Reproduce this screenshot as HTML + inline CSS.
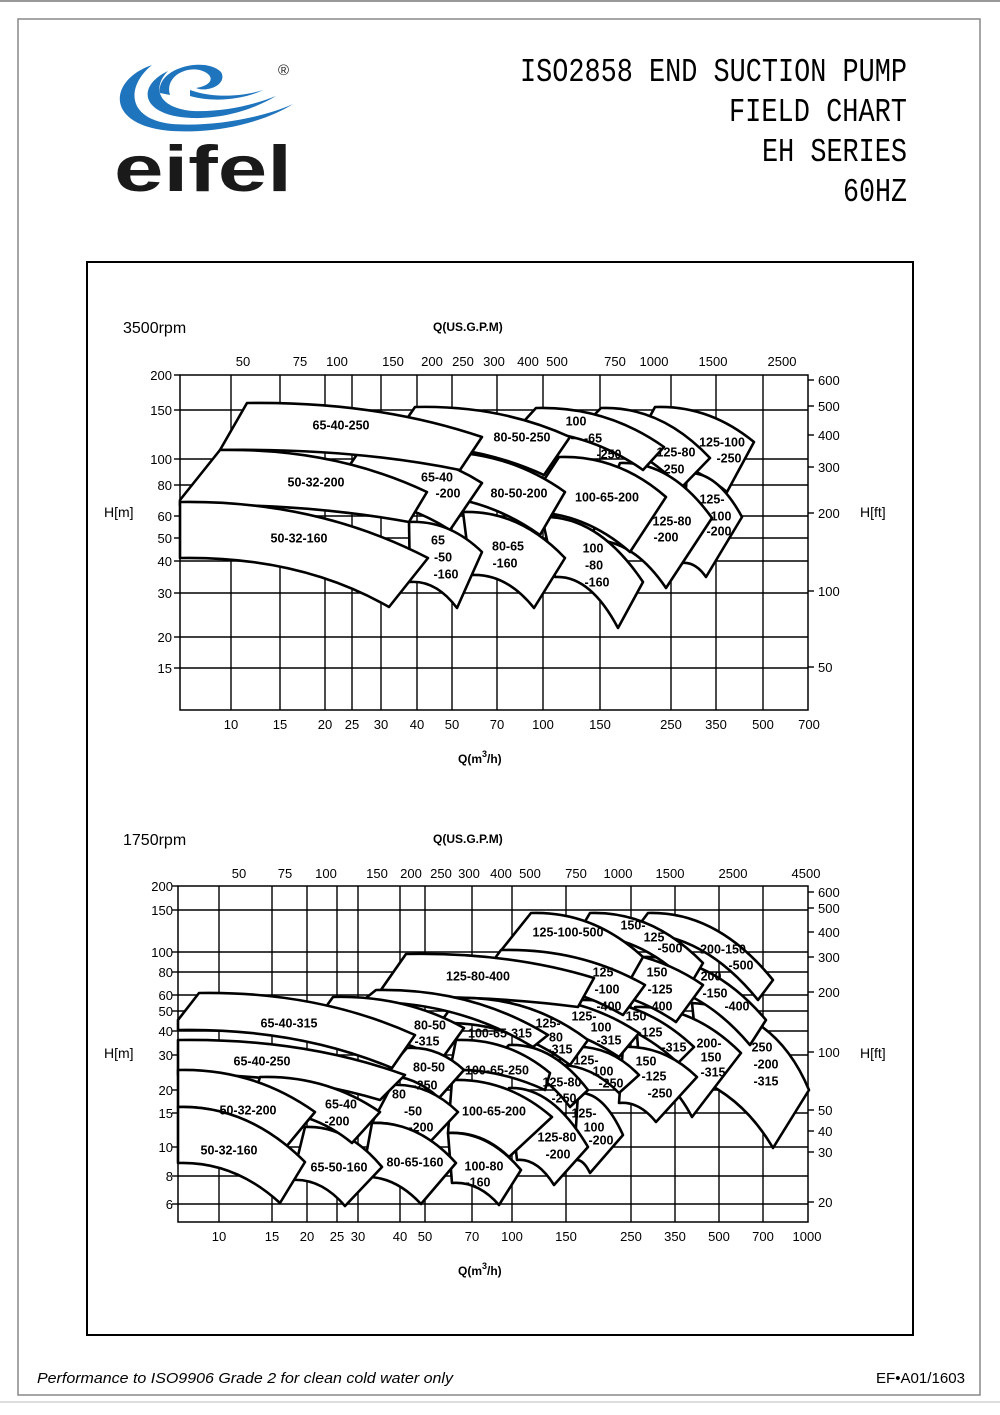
<!DOCTYPE html>
<html><head><meta charset="utf-8"><style>
html,body{margin:0;padding:0;background:#fff;}
svg{display:block;}
.g line{stroke:#000;stroke-width:1.4;}
.s path{fill:#fff;stroke:#000;stroke-width:2.6;stroke-linejoin:round;}
.lb{font-family:"Liberation Sans",sans-serif;font-size:12.5px;font-weight:bold;text-anchor:middle;dominant-baseline:middle;fill:#000;}
.ax{font-family:"Liberation Sans",sans-serif;font-size:13px;fill:#000;}
</style></head><body>
<svg width="1000" height="1415" viewBox="0 0 1000 1415" xmlns="http://www.w3.org/2000/svg">
<rect x="0" y="0" width="1000" height="1415" fill="#fff"/>
<line x1="0" y1="1" x2="1000" y2="1" stroke="#999" stroke-width="2"/>
<line x1="0" y1="1402" x2="1000" y2="1402" stroke="#ddd" stroke-width="2"/>
<rect x="18" y="19" width="962" height="1376" fill="none" stroke="#888" stroke-width="1.5"/>

<!-- logo -->
<g fill="#1e74bd">
<path d="M152,65 C108,80 104,126 172,131 C222,134 268,120 293,104 C262,118 212,127 172,124 C126,119 126,86 152,65 Z"/>
<path d="M168,71 C136,86 140,116 192,118 C226,119 256,108 276,96 C251,106 222,112 193,111 C157,108 152,87 168,71 Z"/>
<path d="M160,93 C156,68 205,56 221,72 C228,84 208,93 196,88 C210,86 216,78 205,72 C190,64 164,75 170,95 Z"/>
<path d="M190,90 C215,99 245,96 263,90 C245,99 215,103 190,96 Z"/>
</g>
<text x="278" y="75" font-family="Liberation Sans,sans-serif" font-size="15" fill="#222">®</text>
<text x="114" y="191" font-family="Liberation Sans,sans-serif" font-weight="bold" font-size="65" textLength="178" lengthAdjust="spacingAndGlyphs" fill="#1a1a1a">eifel</text>

<!-- title -->
<g font-family="Liberation Mono,monospace" font-size="33" fill="#000">
<text x="520" y="81" textLength="387" lengthAdjust="spacingAndGlyphs">ISO2858 END SUCTION PUMP</text>
<text x="729" y="121" textLength="178" lengthAdjust="spacingAndGlyphs">FIELD CHART</text>
<text x="762" y="161" textLength="145" lengthAdjust="spacingAndGlyphs">EH SERIES</text>
<text x="843" y="201" textLength="64" lengthAdjust="spacingAndGlyphs">60HZ</text>
</g>

<rect x="87" y="262" width="826" height="1073" fill="none" stroke="#000" stroke-width="2"/>

<!-- ===== TOP CHART ===== -->
<text x="123" y="333" font-family="Liberation Sans,sans-serif" font-size="16">3500rpm</text>
<text x="433" y="331" font-family="Liberation Sans,sans-serif" font-size="12" font-weight="bold">Q(US.G.P.M)</text>
<g class="g">
<rect x="180" y="375" width="628" height="335" fill="none" stroke="#000" stroke-width="1.5"/>
<line x1="231" y1="375" x2="231" y2="710"/><line x1="280" y1="375" x2="280" y2="710"/><line x1="325" y1="375" x2="325" y2="710"/><line x1="352" y1="375" x2="352" y2="710"/><line x1="381" y1="375" x2="381" y2="710"/><line x1="417" y1="375" x2="417" y2="710"/><line x1="452" y1="375" x2="452" y2="710"/><line x1="497" y1="375" x2="497" y2="710"/><line x1="543" y1="375" x2="543" y2="710"/><line x1="600" y1="375" x2="600" y2="710"/><line x1="671" y1="375" x2="671" y2="710"/><line x1="716" y1="375" x2="716" y2="710"/><line x1="763" y1="375" x2="763" y2="710"/>
<line x1="180" y1="410" x2="808" y2="410"/><line x1="180" y1="459" x2="808" y2="459"/><line x1="180" y1="485" x2="808" y2="485"/><line x1="180" y1="516" x2="808" y2="516"/><line x1="180" y1="538" x2="808" y2="538"/><line x1="180" y1="561" x2="808" y2="561"/><line x1="180" y1="593" x2="808" y2="593"/><line x1="180" y1="637" x2="808" y2="637"/><line x1="180" y1="668" x2="808" y2="668"/>
<line x1="808" y1="380" x2="814" y2="380"/><line x1="808" y1="406" x2="814" y2="406"/><line x1="808" y1="435" x2="814" y2="435"/><line x1="808" y1="467" x2="814" y2="467"/><line x1="808" y1="513" x2="814" y2="513"/><line x1="808" y1="591" x2="814" y2="591"/><line x1="808" y1="667" x2="814" y2="667"/>
<line x1="174" y1="375" x2="180" y2="375"/><line x1="174" y1="410" x2="180" y2="410"/><line x1="174" y1="459" x2="180" y2="459"/><line x1="174" y1="485" x2="180" y2="485"/><line x1="174" y1="516" x2="180" y2="516"/><line x1="174" y1="538" x2="180" y2="538"/><line x1="174" y1="561" x2="180" y2="561"/><line x1="174" y1="593" x2="180" y2="593"/><line x1="174" y1="637" x2="180" y2="637"/><line x1="174" y1="668" x2="180" y2="668"/>
</g>
<g class="ax" text-anchor="end">
<text x="172" y="380">200</text><text x="172" y="415">150</text><text x="172" y="464">100</text><text x="172" y="490">80</text><text x="172" y="521">60</text><text x="172" y="543">50</text><text x="172" y="566">40</text><text x="172" y="598">30</text><text x="172" y="642">20</text><text x="172" y="673">15</text>
</g>
<g class="ax">
<text x="818" y="385">600</text><text x="818" y="411">500</text><text x="818" y="440">400</text><text x="818" y="472">300</text><text x="818" y="518">200</text><text x="818" y="596">100</text><text x="818" y="672">50</text>
<text x="104" y="517" font-size="14">H[m]</text><text x="860" y="517" font-size="14">H[ft]</text>
</g>
<g class="ax" text-anchor="middle">
<text x="231" y="729">10</text><text x="280" y="729">15</text><text x="325" y="729">20</text><text x="352" y="729">25</text><text x="381" y="729">30</text><text x="417" y="729">40</text><text x="452" y="729">50</text><text x="497" y="729">70</text><text x="543" y="729">100</text><text x="600" y="729">150</text><text x="671" y="729">250</text><text x="716" y="729">350</text><text x="763" y="729">500</text><text x="809" y="729">700</text>
<text x="243" y="366">50</text><text x="300" y="366">75</text><text x="337" y="366">100</text><text x="393" y="366">150</text><text x="432" y="366">200</text><text x="463" y="366">250</text><text x="494" y="366">300</text><text x="528" y="366">400</text><text x="557" y="366">500</text><text x="615" y="366">750</text><text x="654" y="366">1000</text><text x="713" y="366">1500</text><text x="782" y="366">2500</text>
</g>
<text x="458" y="763" font-family="Liberation Sans,sans-serif" font-size="12" font-weight="bold">Q(m<tspan font-size="9" dy="-6">3</tspan><tspan dy="6">/h)</tspan></text>

<g class="s">
<path d="M655,407 Q709,405 754,442 L727,492 Q682,455 628,457 Z"/>
<path d="M687,473 Q717,471 742,517 L706,577 Q695,561 681,563 Z"/>
<path d="M601,408 Q661,406 710,458 L681,488 Q632,436 572,438 Z"/>
<path d="M620,463 Q671,461 712,518 L666,588 Q632,538 590,540 Z"/>
<path d="M536,408 Q606,406 664,447 L643,470 Q585,429 515,431 Z"/>
<path d="M559,457 Q618,455 666,497 L630,552 Q582,510 523,512 Z"/>
<path d="M542,517 Q598,515 643,582 L618,628 Q590,575 555,577 Z"/>
<path d="M415,407 Q500,405 570,437 L544,475 Q474,443 389,445 Z"/>
<path d="M434,452 Q506,450 565,492 L540,535 Q481,493 409,495 Z"/>
<path d="M463,512 Q519,510 565,558 L534,608 Q506,573 471,575 Z"/>
<path d="M360,450 Q427,448 482,483 L450,530 Q395,495 328,497 Z"/>
<path d="M409,522 Q449,520 482,552 L457,608 Q436,580 410,582 Z"/>
<path d="M247,403 Q376,401 482,437 L460,470 Q352,448 220,450 Z"/>
<path d="M220,450 Q334,448 427,492 L409,522 Q306,503 180,505 L180,500 Z"/>
<path d="M180,502 Q316,500 428,558 L389,607 Q300,556 180,558 Z"/>
</g>
<g class="lb">
<text x="341" y="426">65-40-250</text><text x="522" y="438">80-50-250</text>
<text x="576" y="422">100</text><text x="593" y="439">-65</text><text x="609" y="455">-250</text>
<text x="676" y="453">125-80</text><text x="672" y="470">-250</text>
<text x="722" y="443">125-100</text><text x="729" y="459">-250</text>
<text x="437" y="478">65-40</text><text x="448" y="494">-200</text>
<text x="316" y="483">50-32-200</text><text x="519" y="494">80-50-200</text><text x="607" y="498">100-65-200</text>
<text x="672" y="522">125-80</text><text x="666" y="538">-200</text>
<text x="712" y="500">125-</text><text x="721" y="517">100</text><text x="719" y="532">-200</text>
<text x="299" y="539">50-32-160</text>
<text x="438" y="541">65</text><text x="443" y="558">-50</text><text x="446" y="575">-160</text>
<text x="508" y="547">80-65</text><text x="505" y="564">-160</text>
<text x="593" y="549">100</text><text x="594" y="566">-80</text><text x="597" y="583">-160</text>
</g>

<!-- ===== BOTTOM CHART ===== -->
<text x="123" y="845" font-family="Liberation Sans,sans-serif" font-size="16">1750rpm</text>
<text x="433" y="843" font-family="Liberation Sans,sans-serif" font-size="12" font-weight="bold">Q(US.G.P.M)</text>
<g class="g">
<rect x="178" y="886" width="630" height="336" fill="none" stroke="#000" stroke-width="1.5"/>
<line x1="219" y1="886" x2="219" y2="1222"/><line x1="272" y1="886" x2="272" y2="1222"/><line x1="307" y1="886" x2="307" y2="1222"/><line x1="337" y1="886" x2="337" y2="1222"/><line x1="358" y1="886" x2="358" y2="1222"/><line x1="400" y1="886" x2="400" y2="1222"/><line x1="425" y1="886" x2="425" y2="1222"/><line x1="472" y1="886" x2="472" y2="1222"/><line x1="512" y1="886" x2="512" y2="1222"/><line x1="566" y1="886" x2="566" y2="1222"/><line x1="631" y1="886" x2="631" y2="1222"/><line x1="675" y1="886" x2="675" y2="1222"/><line x1="719" y1="886" x2="719" y2="1222"/><line x1="763" y1="886" x2="763" y2="1222"/>
<line x1="178" y1="910" x2="808" y2="910"/><line x1="178" y1="952" x2="808" y2="952"/><line x1="178" y1="972" x2="808" y2="972"/><line x1="178" y1="995" x2="808" y2="995"/><line x1="178" y1="1011" x2="808" y2="1011"/><line x1="178" y1="1031" x2="808" y2="1031"/><line x1="178" y1="1055" x2="808" y2="1055"/><line x1="178" y1="1090" x2="808" y2="1090"/><line x1="178" y1="1113" x2="808" y2="1113"/><line x1="178" y1="1147" x2="808" y2="1147"/><line x1="178" y1="1176" x2="808" y2="1176"/><line x1="178" y1="1204" x2="808" y2="1204"/>
<line x1="808" y1="892" x2="814" y2="892"/><line x1="808" y1="908" x2="814" y2="908"/><line x1="808" y1="932" x2="814" y2="932"/><line x1="808" y1="957" x2="814" y2="957"/><line x1="808" y1="992" x2="814" y2="992"/><line x1="808" y1="1052" x2="814" y2="1052"/><line x1="808" y1="1110" x2="814" y2="1110"/><line x1="808" y1="1131" x2="814" y2="1131"/><line x1="808" y1="1152" x2="814" y2="1152"/><line x1="808" y1="1202" x2="814" y2="1202"/>
<line x1="172" y1="886" x2="178" y2="886"/><line x1="172" y1="910" x2="178" y2="910"/><line x1="172" y1="952" x2="178" y2="952"/><line x1="172" y1="972" x2="178" y2="972"/><line x1="172" y1="995" x2="178" y2="995"/><line x1="172" y1="1011" x2="178" y2="1011"/><line x1="172" y1="1031" x2="178" y2="1031"/><line x1="172" y1="1055" x2="178" y2="1055"/><line x1="172" y1="1090" x2="178" y2="1090"/><line x1="172" y1="1113" x2="178" y2="1113"/><line x1="172" y1="1147" x2="178" y2="1147"/><line x1="172" y1="1176" x2="178" y2="1176"/><line x1="172" y1="1204" x2="178" y2="1204"/>
</g>
<g class="ax" text-anchor="end">
<text x="173" y="891">200</text><text x="173" y="915">150</text><text x="173" y="957">100</text><text x="173" y="977">80</text><text x="173" y="1000">60</text><text x="173" y="1016">50</text><text x="173" y="1036">40</text><text x="173" y="1060">30</text><text x="173" y="1095">20</text><text x="173" y="1118">15</text><text x="173" y="1152">10</text><text x="173" y="1181">8</text><text x="173" y="1209">6</text>
</g>
<g class="ax">
<text x="818" y="897">600</text><text x="818" y="913">500</text><text x="818" y="937">400</text><text x="818" y="962">300</text><text x="818" y="997">200</text><text x="818" y="1057">100</text><text x="818" y="1115">50</text><text x="818" y="1136">40</text><text x="818" y="1157">30</text><text x="818" y="1207">20</text>
<text x="104" y="1058" font-size="14">H[m]</text><text x="860" y="1058" font-size="14">H[ft]</text>
</g>
<g class="ax" text-anchor="middle">
<text x="219" y="1241">10</text><text x="272" y="1241">15</text><text x="307" y="1241">20</text><text x="337" y="1241">25</text><text x="358" y="1241">30</text><text x="400" y="1241">40</text><text x="425" y="1241">50</text><text x="472" y="1241">70</text><text x="512" y="1241">100</text><text x="566" y="1241">150</text><text x="631" y="1241">250</text><text x="675" y="1241">350</text><text x="719" y="1241">500</text><text x="763" y="1241">700</text><text x="807" y="1241">1000</text>
<text x="239" y="878">50</text><text x="285" y="878">75</text><text x="326" y="878">100</text><text x="377" y="878">150</text><text x="411" y="878">200</text><text x="441" y="878">250</text><text x="469" y="878">300</text><text x="501" y="878">400</text><text x="530" y="878">500</text><text x="576" y="878">750</text><text x="618" y="878">1000</text><text x="670" y="878">1500</text><text x="733" y="878">2500</text><text x="806" y="878">4500</text>
</g>
<text x="458" y="1275" font-family="Liberation Sans,sans-serif" font-size="12" font-weight="bold">Q(m<tspan font-size="9" dy="-6">3</tspan><tspan dy="6">/h)</tspan></text>

<g class="s">
<path d="M648,913 Q717,911 773,980 L758,1000 Q702,931 633,933 Z"/>
<path d="M692,1003 Q775,1008 809,1090 L773,1148 Q745,1100 700,1080 Z"/>
<path d="M643,957 Q711,955 766,1020 L750,1045 Q695,980 627,982 Z"/>
<path d="M590,913 Q652,911 703,963 L690,985 Q639,933 577,935 Z"/>
<path d="M635,1007 Q693,1005 741,1053 L692,1117 Q669,1073 640,1075 Z"/>
<path d="M582,950 Q649,948 703,985 L676,1022 Q622,985 555,987 Z"/>
<path d="M578,1000 Q642,998 694,1047 L678,1063 Q626,1014 562,1016 Z"/>
<path d="M623,1047 Q664,1045 697,1077 L656,1122 Q639,1101 619,1103 Z"/>
<path d="M531,913 Q593,911 643,957 L630,980 Q571,951 499,953 Z"/>
<path d="M501,950 Q580,948 645,985 L623,1015 Q559,978 479,980 Z"/>
<path d="M513,997 Q582,995 639,1033 L619,1057 Q562,1019 493,1021 Z"/>
<path d="M574,1047 Q610,1045 639,1075 L619,1093 Q590,1063 554,1065 Z"/>
<path d="M578,1093 Q603,1091 623,1135 L590,1173 Q583,1158 574,1160 Z"/>
<path d="M406,954 Q509,952 594,978 L578,1007 Q487,995 376,997 Z"/>
<path d="M458,998 Q530,996 588,1040 L570,1065 Q512,1021 440,1023 Z"/>
<path d="M509,1045 Q552,1043 588,1090 L570,1107 Q534,1060 491,1062 Z"/>
<path d="M509,1088 Q552,1086 588,1147 L554,1185 Q537,1158 517,1160 Z"/>
<path d="M376,990 Q471,988 548,1035 L533,1047 Q456,1000 361,1002 Z"/>
<path d="M456,1040 Q508,1038 550,1073 L545,1090 Q497,1068 450,1070 Z"/>
<path d="M452,1080 Q507,1078 552,1117 L509,1157 Q482,1131 448,1133 Z"/>
<path d="M448,1133 Q488,1131 521,1170 L499,1205 Q478,1181 452,1183 Z"/>
<path d="M333,997 Q405,995 464,1028 L441,1060 Q382,1027 310,1029 Z"/>
<path d="M407,1048 Q438,1046 464,1070 L439,1098 Q413,1074 382,1076 Z"/>
<path d="M392,1085 Q428,1083 458,1112 L429,1143 Q403,1121 372,1123 Z"/>
<path d="M372,1123 Q418,1121 456,1163 L421,1204 Q394,1175 362,1177 Z"/>
<path d="M305,1127 Q347,1125 382,1167 L345,1206 Q321,1178 292,1180 Z"/>
<path d="M199,993 Q318,991 415,1035 L392,1068 Q297,1028 178,1030 L178,1020 Z"/>
<path d="M178,1040 Q303,1038 405,1075 L380,1100 Q289,1073 178,1075 Z"/>
<path d="M260,1077 Q326,1075 380,1112 L352,1143 Q310,1108 250,1110 Z"/>
<path d="M178,1070 Q253,1068 315,1112 L286,1147 Q237,1105 178,1107 Z"/>
<path d="M178,1107 Q248,1105 305,1162 L280,1203 Q234,1161 178,1163 Z"/>
</g>
<g class="lb">
<text x="568" y="933">125-100-500</text>
<text x="633" y="926">150-</text><text x="654" y="938">125</text><text x="670" y="949">-500</text>
<text x="723" y="950">200-150</text><text x="741" y="966">-500</text>
<text x="478" y="977">125-80-400</text>
<text x="603" y="973">125</text><text x="607" y="990">-100</text><text x="609" y="1007">-400</text>
<text x="657" y="973">150</text><text x="660" y="990">-125</text><text x="660" y="1007">-400</text>
<text x="711" y="977">200</text><text x="715" y="994">-150</text><text x="737" y="1007">-400</text>
<text x="289" y="1024">65-40-315</text>
<text x="430" y="1026">80-50</text><text x="427" y="1042">-315</text>
<text x="500" y="1034">100-65-315</text>
<text x="548" y="1024">125-</text><text x="556" y="1038">80</text><text x="560" y="1050">-315</text>
<text x="584" y="1017">125-</text><text x="601" y="1028">100</text><text x="609" y="1041">-315</text>
<text x="636" y="1017">150</text><text x="650" y="1033">-125</text><text x="674" y="1048">-315</text>
<text x="709" y="1044">200-</text><text x="711" y="1058">150</text><text x="713" y="1073">-315</text>
<text x="762" y="1048">250</text><text x="766" y="1065">-200</text><text x="766" y="1082">-315</text>
<text x="262" y="1062">65-40-250</text>
<text x="429" y="1068">80-50</text><text x="425" y="1086">-250</text>
<text x="497" y="1071">100-65-250</text>
<text x="562" y="1083">125-80</text><text x="564" y="1099">-250</text>
<text x="586" y="1061">125-</text><text x="603" y="1072">100</text><text x="611" y="1084">-250</text>
<text x="646" y="1062">150</text><text x="654" y="1077">-125</text><text x="660" y="1094">-250</text>
<text x="248" y="1111">50-32-200</text>
<text x="341" y="1105">65-40</text><text x="337" y="1122">-200</text>
<text x="399" y="1095">80</text><text x="413" y="1112">-50</text><text x="421" y="1128">-200</text>
<text x="494" y="1112">100-65-200</text>
<text x="584" y="1114">125-</text><text x="594" y="1128">100</text><text x="601" y="1141">-200</text>
<text x="557" y="1138">125-80</text><text x="558" y="1155">-200</text>
<text x="229" y="1151">50-32-160</text>
<text x="339" y="1168">65-50-160</text>
<text x="415" y="1163">80-65-160</text>
<text x="484" y="1167">100-80</text><text x="478" y="1183">-160</text>
</g>

<!-- footer -->
<text x="37" y="1383" font-family="Liberation Sans,sans-serif" font-style="italic" font-size="15" textLength="416" lengthAdjust="spacingAndGlyphs">Performance to ISO9906 Grade 2 for clean cold water only</text>
<text x="876" y="1383" font-family="Liberation Sans,sans-serif" font-size="15" textLength="89" lengthAdjust="spacingAndGlyphs">EF•A01/1603</text>
</svg>
</body></html>
